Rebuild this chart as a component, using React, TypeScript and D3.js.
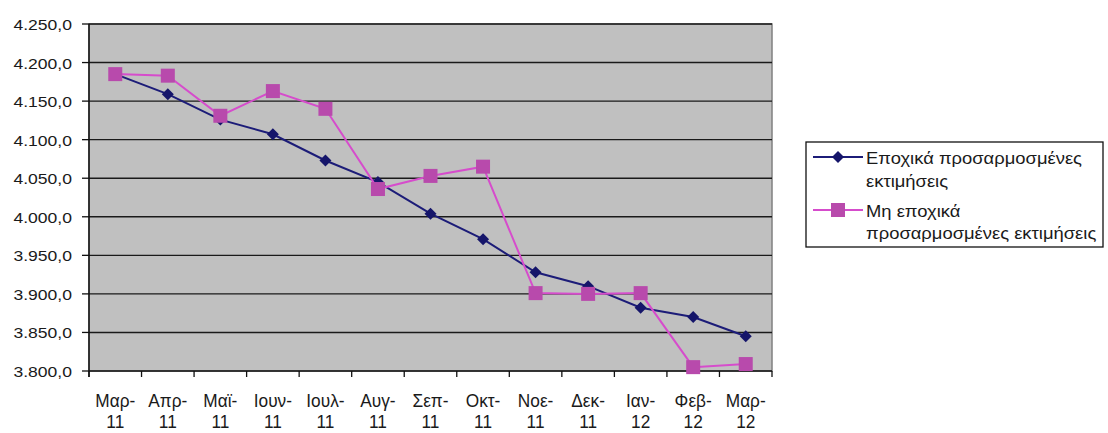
import React from "react";
import * as d3 from "d3";

const categories = ["Μαρ-11", "Απρ-11", "Μαϊ-11", "Ιουν-11", "Ιουλ-11", "Αυγ-11", "Σεπ-11", "Οκτ-11", "Νοε-11", "Δεκ-11", "Ιαν-12", "Φεβ-12", "Μαρ-12"];
const seasonallyAdjusted = [4185, 4159, 4126, 4107, 4073, 4045, 4004, 3971, 3928, 3910, 3882, 3870, 3845];
const notSeasonallyAdjusted = [4185, 4183, 4131, 4163, 4140, 4036, 4053, 4065, 3901, 3900, 3901, 3805, 3809];
const yTicks = [3800, 3850, 3900, 3950, 4000, 4050, 4100, 4150, 4200, 4250];
const seriesNames = [["Εποχικά προσαρμοσμένες", "εκτιμήσεις"], ["Μη εποχικά", "προσαρμοσμένες εκτιμήσεις"]];

const W = 1108, H = 433;
const plot = { left: 89, right: 772, top: 24, bottom: 371 };
const FONT = "'Liberation Sans', Arial, sans-serif";
const NAVY = "#1c1c78";
const NAVY_M = "#15156a";
const PINK = "#d64ccc";
const PINK_M = "#b84aac";

const fmt = d3.formatLocale({ decimal: ",", thousands: ".", grouping: [3], currency: ["", "€"] }).format(",.1f");

function SText({ x, y, sx = 1.15, sy = 1, anchor = "start", size = 15, children }: any) {
  return (
    <text
      transform={`translate(${x},${y}) scale(${sx},${sy})`}
      textAnchor={anchor}
      fontFamily={FONT}
      fontSize={size}
      fill="#1a1a1a"
    >
      {children}
    </text>
  );
}

function Diamond({ cx, cy, r = 6, fill }: any) {
  return <path d={`M${cx},${cy - r}L${cx + r},${cy}L${cx},${cy + r}L${cx - r},${cy}Z`} fill={fill} />;
}

export default function App() {
  const x = d3.scaleBand<string>().domain(categories).range([plot.left, plot.right]);
  const y = d3.scaleLinear().domain([3800, 4250]).range([plot.bottom, plot.top]);
  const cx = (c: string) => (x(c) as number) + x.bandwidth() / 2;
  const line = d3.line<number>().x((_, i) => cx(categories[i])).y((d) => y(d));

  const boundaries = categories.map((c) => x(c) as number).concat([plot.right]);

  return (
    <svg width={W} height={H} style={{ position: "absolute", left: 0, top: 0, background: "#fff" }}>
      <rect x={plot.left} y={plot.top} width={plot.right - plot.left} height={plot.bottom - plot.top} fill="#c0c0c0" stroke="#808080" strokeWidth={1.5} />
      {yTicks.slice(1).map((t) => (
        <line key={t} x1={plot.left} x2={plot.right} y1={y(t)} y2={y(t)} stroke="#1a1a1a" strokeWidth={1.4} />
      ))}
      {/* axes */}
      <line x1={plot.left} x2={plot.left} y1={plot.top} y2={plot.bottom + 6} stroke="#111" strokeWidth={1.5} />
      <line x1={plot.left} x2={plot.right} y1={plot.bottom} y2={plot.bottom} stroke="#111" strokeWidth={1.5} />
      {yTicks.map((t) => (
        <g key={t}>
          <line x1={plot.left - 7} x2={plot.left} y1={y(t)} y2={y(t)} stroke="#111" strokeWidth={1.3} />
          <SText x={72} y={y(t) + 6} anchor="end" size={15} sx={1.17}>{fmt(t)}</SText>
        </g>
      ))}
      {boundaries.map((b, i) => (
        <line key={i} x1={b} x2={b} y1={plot.bottom} y2={plot.bottom + 6} stroke="#111" strokeWidth={1.3} />
      ))}
      {categories.map((c) => {
        const [m, yr] = c.split("-");
        return (
          <g key={c}>
            <SText x={cx(c)} y={407} anchor="middle" size={16} sx={1.08} sy={1.15}>{m + "-"}</SText>
            <SText x={cx(c)} y={428} anchor="middle" size={16} sx={1.08} sy={1.15}>{yr}</SText>
          </g>
        );
      })}
      {/* series */}
      <path d={line(seasonallyAdjusted) as string} fill="none" stroke={NAVY} strokeWidth={2} />
      {seasonallyAdjusted.map((v, i) => (
        <Diamond key={i} cx={cx(categories[i])} cy={y(v)} r={6} fill={NAVY_M} />
      ))}
      <path d={line(notSeasonallyAdjusted) as string} fill="none" stroke={PINK} strokeWidth={2} />
      {notSeasonallyAdjusted.map((v, i) => (
        <rect key={i} x={cx(categories[i]) - 7} y={y(v) - 7} width={14} height={14} fill={PINK_M} />
      ))}
      {/* legend */}
      <rect x={806} y={142} width={297} height={105} fill="#fff" stroke="#111" strokeWidth={1.3} />
      <line x1={813} x2={863} y1={157} y2={157} stroke={NAVY} strokeWidth={2} />
      <Diamond cx={838} cy={157} r={6} fill={NAVY_M} />
      <SText x={866} y={164} size={16} sx={1.15}>{seriesNames[0][0]}</SText>
      <SText x={866} y={187} size={16} sx={1.15}>{seriesNames[0][1]}</SText>
      <line x1={813} x2={863} y1={210} y2={210} stroke={PINK} strokeWidth={2} />
      <rect x={831} y={203} width={14} height={14} fill={PINK_M} />
      <SText x={866} y={217} size={16} sx={1.15}>{seriesNames[1][0]}</SText>
      <SText x={866} y={239} size={16} sx={1.15}>{seriesNames[1][1]}</SText>
    </svg>
  );
}
